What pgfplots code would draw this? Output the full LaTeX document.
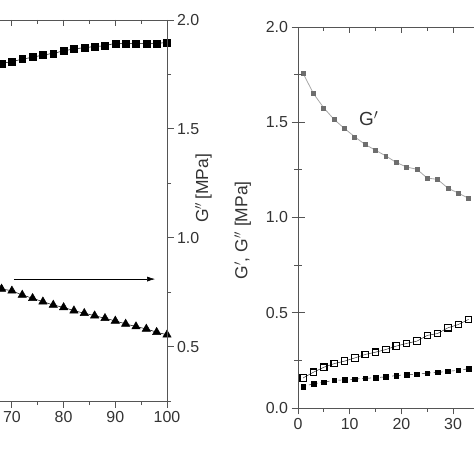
\documentclass[border=0pt]{standalone}
\usepackage{fontspec}
\setmainfont{Liberation Sans}
\usepackage{pgfplots}
\pgfplotsset{compat=1.18}
\usetikzlibrary{arrows.meta}
\definecolor{axgray}{HTML}{555555}
\definecolor{txtgray}{HTML}{333333}
\definecolor{gmark}{HTML}{6E6E6E}
\definecolor{gline}{HTML}{A8A8A8}

\pgfplotstableread{
x y
68 1.801
70 1.809
72 1.820
74 1.829
76 1.839
78 1.847
80 1.858
82 1.867
84 1.873
86 1.878
88 1.882
90 1.893
92 1.893
94 1.893
96 1.893
98 1.893
100 1.896
}\leftsq
\pgfplotstableread{
x y
68 0.765
70 0.756
72 0.737
74 0.722
76 0.706
78 0.691
80 0.680
82 0.665
84 0.653
86 0.642
88 0.630
90 0.618
92 0.604
94 0.592
96 0.581
98 0.566
100 0.554
}\lefttri
\pgfplotstableread{
x y
1 1.756
3 1.650
5 1.575
7 1.514
9 1.467
11 1.423
13 1.383
15 1.353
17 1.323
19 1.289
21 1.265
23 1.253
25 1.207
27 1.200
29 1.154
31 1.128
33 1.101
}\rgp
\pgfplotstableread{
x y
1 0.158
3 0.188
5 0.214
7 0.233
9 0.246
11 0.263
13 0.281
15 0.293
17 0.307
19 0.325
21 0.339
23 0.351
25 0.381
27 0.391
29 0.421
31 0.438
33 0.465
}\rgpp
\pgfplotstableread{
x y
1 0.113
3 0.127
5 0.136
7 0.145
9 0.148
11 0.152
13 0.156
15 0.159
17 0.164
19 0.170
21 0.175
23 0.178
25 0.183
27 0.187
29 0.192
31 0.198
33 0.206
}\rtan

\newcommand\tfont{\fontsize{16}{18}\selectfont}
\newcommand\lfont{\fontsize{17.5}{19}\selectfont}
\pgfplotsset{
  base/.style={
    scale only axis, width=517bp, height=381bp,
    xmin=0, xmax=100,
    xtick={0,10,...,100}, minor x tick num=1,
    axis line style={axgray, line width=0.9pt},
    every tick/.style={axgray, line width=0.9pt},
    major tick length=6.5bp, minor tick length=4bp,
    every tick label/.append style={font=\tfont, text=txtgray},
    /pgf/number format/assume math mode=true,
    yticklabel style={/pgf/number format/.cd, fixed, fixed zerofill, precision=1},
  },
  inner/.style={base, tick align=inside, xtick pos=top, ytick pos=left,
    xticklabels={}, yticklabels={}},
  outer/.style={base, tick align=outside, xtick pos=bottom},
}

\begin{document}
\begin{tikzpicture}
\path[use as bounding box] (0bp,0bp) rectangle (474bp,474bp);
\begin{scope}[overlay]
\clip (0bp,0bp) rectangle (474bp,474bp);
% ---------- left plot ----------
\begin{axis}[outer, at={(-350bp,73bp)}, anchor=south west,
  ymin=0.25, ymax=2.0, ytick={0.5,1.0,1.5,2.0}, minor ytick={0.25,0.75,1.25,1.75},
  ytick pos=right, yticklabel pos=right,
  ylabel={G$''$\,[MPa]},
  every axis y label/.style={at={(axis description cs:1.0706,0.558)}, rotate=90, anchor=center, font=\lfont, text=txtgray},
]
\addplot[black, line width=0.5pt, mark=square*, mark size=3.5pt, mark options={solid}] table[x=x,y=y]{\leftsq};
\addplot[black, line width=0.5pt, mark=triangle*, mark size=4.8pt, mark options={solid}] table[x=x,y=y]{\lefttri};
\draw[black, line width=0.6pt, -{Latex[length=8bp,width=5bp]}] (axis cs:70.4,0.81) -- (axis cs:97.7,0.81);
\end{axis}
\begin{axis}[inner, at={(-350bp,73bp)}, anchor=south west,
  ymin=0.25, ymax=2.0, ytick={0.5,1.0,1.5,2.0}, minor ytick={0.25,0.75,1.25,1.75}]
\end{axis}
% ---------- right plot ----------
\begin{axis}[outer, at={(298bp,66bp)}, anchor=south west,
  ymin=0, ymax=2.0, ytick={0,0.5,...,2.0}, minor y tick num=1,
  ytick pos=left,
  ylabel={G$'$, G$''$ [MPa]},
  every axis y label/.style={at={(axis description cs:-0.107,0.466)}, rotate=90, anchor=center, font=\lfont, text=txtgray},
]
\addplot[gline, line width=0.8pt, mark=square*, mark size=2pt, mark options={gmark, fill=gmark, solid}] table[x=x,y=y]{\rgp};
\addplot[black!80, line width=0.5pt, mark=square, mark size=3.2pt, mark options={black, line width=1.1pt, solid}] table[x=x,y=y]{\rgpp};
\addplot[black!80, line width=0.5pt, dashed, mark=square*, mark size=2.3pt, mark options={black, solid}] table[x=x,y=y]{\rtan};
\node[font=\fontsize{19}{21}\selectfont, text=txtgray] at (axis cs:13.7,1.52) {G$'$};
\end{axis}
\begin{axis}[inner, at={(298bp,66bp)}, anchor=south west,
  ymin=0, ymax=2.0, ytick={0,0.5,...,2.0}, minor y tick num=1]
\end{axis}
\end{scope}
\end{tikzpicture}
\end{document}
